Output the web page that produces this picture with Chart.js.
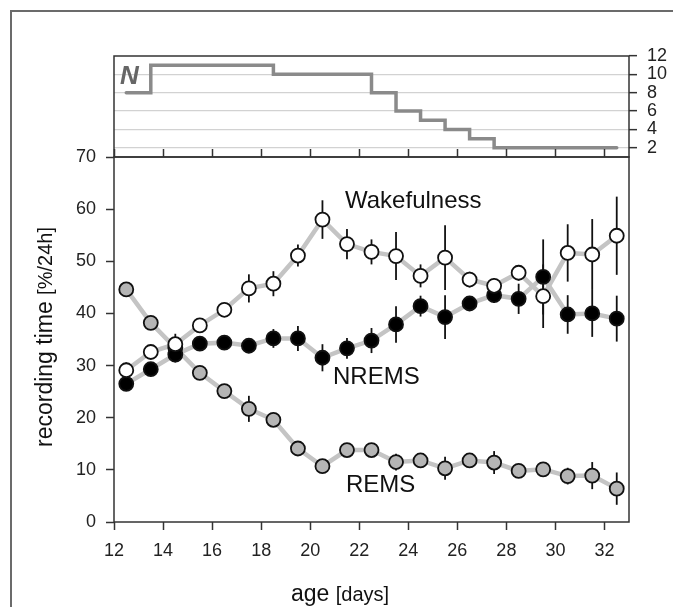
<!DOCTYPE html>
<html>
<head>
<meta charset="utf-8">
<script src="https://cdn.jsdelivr.net/npm/chart.js@4.4.1/dist/chart.umd.min.js"></script>
<style>
html, body { margin: 0; padding: 0; background: #fff; overflow: hidden; }
#wrap { position: relative; width: 673px; height: 607px; overflow: hidden; }
#frame { position: absolute; left: 10px; top: 10px; width: 800px; height: 800px;
         border-left: 2px solid #6b6b6b; border-top: 2px solid #6b6b6b; }
canvas { position: absolute; left: 0; top: 0; }
</style>
</head>
<body>
<div id="wrap">
  <div id="frame"></div>
  <canvas id="topPanel" width="673" height="607"></canvas>
  <canvas id="mainPanel" width="673" height="607"></canvas>
</div>
<script>
// number of animals per age (top panel)
const stepDays = [12.5, 13.5, 18.5, 22.5, 23.5, 24.5, 25.5, 26.5, 27.5, 32.5]
const stepN = [8, 11, 10, 8, 6, 5, 4, 3, 2, 2]
const nTicks = [2, 4, 6, 8, 10, 12]

// recording time per day of age
const days = [12.5, 13.5, 14.5, 15.5, 16.5, 17.5, 18.5, 19.5, 20.5, 21.5, 22.5,
              23.5, 24.5, 25.5, 26.5, 27.5, 28.5, 29.5, 30.5, 31.5, 32.5]
const wake = [29.1, 32.6, 34.1, 37.7, 40.7, 44.8, 45.7, 51.1, 58.0, 53.3, 51.8,
              51.0, 47.2, 50.7, 46.5, 45.3, 47.8, 43.3, 51.6, 51.3, 54.9]
const wakeErr = [1.5, 1.2, 2.0, 1.2, 1.2, 2.7, 2.4, 2.1, 3.7, 2.9, 2.4,
                 4.6, 2.2, 6.2, 1.5, 1.5, 1.5, 6.1, 5.5, 6.8, 7.5]
const nrem = [26.5, 29.3, 32.1, 34.2, 34.4, 33.8, 35.2, 35.2, 31.5, 33.3, 34.8,
              37.9, 41.4, 39.3, 41.9, 43.5, 42.8, 47.0, 39.8, 40.0, 39.0]
const nremErr = [1.0, 1.0, 1.5, 1.2, 1.2, 1.0, 1.8, 2.4, 2.6, 2.0, 2.4,
                 3.5, 2.0, 4.2, 1.2, 1.5, 2.9, 7.2, 3.7, 4.5, 4.4]
const rem = [44.6, 38.2, 33.4, 28.6, 25.1, 21.7, 19.6, 14.1, 10.7, 13.8, 13.8,
             11.5, 11.8, 10.3, 11.8, 11.4, 9.8, 10.1, 8.8, 8.9, 6.4]
const remErr = [0.8, 0.8, 0.8, 0.8, 1.0, 2.5, 1.0, 1.0, 1.0, 1.0, 1.0,
                1.6, 1.0, 2.2, 1.2, 2.2, 1.0, 1.0, 1.6, 2.6, 3.1]

const xTicks = [12, 14, 16, 18, 20, 22, 24, 26, 28, 30, 32]
const yTicks = [0, 10, 20, 30, 40, 50, 60, 70]

Chart.defaults.font.family = "'Liberation Sans', Arial, sans-serif"
Chart.defaults.color = '#222'

const FONT = "'Liberation Sans', Arial, sans-serif"

const frame = {
  id: 'frame',
  beforeDatasetsDraw(chart) {
    const a = chart.chartArea, ctx = chart.ctx
    ctx.save()
    ctx.strokeStyle = '#333'
    ctx.lineWidth = 1.5
    ctx.strokeRect(a.left, a.top, a.right - a.left, a.bottom - a.top)
    ctx.restore()
  }
}

const nLabel = {
  id: 'nLabel',
  afterDraw(chart) {
    const ctx = chart.ctx, a = chart.chartArea
    ctx.save()
    ctx.font = 'italic bold 26px ' + FONT
    ctx.fillStyle = '#666'
    ctx.textBaseline = 'alphabetic'
    ctx.fillText('N', a.left + 6, a.top + 28)
    ctx.restore()
  }
}

const errBars = {
  id: 'errBars',
  beforeDatasetDraw(chart, args) {
    if (!chart.data.datasets[args.index].errStart) return
    const x = chart.scales.x, y = chart.scales.y, ctx = chart.ctx
    ctx.save()
    ctx.strokeStyle = '#111'
    ctx.lineWidth = 1.8
    ;[[wake, wakeErr], [nrem, nremErr], [rem, remErr]].forEach(([v, e]) => {
      days.forEach((d, i) => {
        const px = x.getPixelForValue(d)
        ctx.beginPath()
        ctx.moveTo(px, y.getPixelForValue(v[i] - e[i]))
        ctx.lineTo(px, y.getPixelForValue(v[i] + e[i]))
        ctx.stroke()
      })
    })
    ctx.restore()
  }
}

const seriesLabels = {
  id: 'seriesLabels',
  afterDatasetsDraw(chart, args, opts) {
    const x = chart.scales.x, y = chart.scales.y, ctx = chart.ctx
    ctx.save()
    ctx.font = '24px ' + FONT
    ctx.fillStyle = '#111'
    ctx.textBaseline = 'middle'
    ctx.textAlign = 'left'
    opts.items.forEach(it => ctx.fillText(it.text, x.getPixelForValue(it.x), y.getPixelForValue(it.y)))
    ctx.restore()
  }
}

const axisTitles = {
  id: 'axisTitles',
  afterDraw(chart) {
    const ctx = chart.ctx
    ctx.save()
    ctx.fillStyle = '#111'
    ctx.textBaseline = 'alphabetic'
    ctx.textAlign = 'left'
    // x title
    ctx.font = '23px ' + FONT
    const w1 = ctx.measureText('age ').width
    ctx.fillText('age ', 291, 601)
    ctx.font = '20px ' + FONT
    ctx.fillText('[days]', 291 + w1, 601)
    // y title
    ctx.translate(52, 447)
    ctx.rotate(-Math.PI / 2)
    ctx.font = '23px ' + FONT
    const w2 = ctx.measureText('recording time ').width
    ctx.fillText('recording time ', 0, 0)
    ctx.font = '20px ' + FONT
    ctx.fillText('[%/24h]', w2, 0)
    ctx.restore()
  }
}

new Chart(document.getElementById('topPanel'), {
  type: 'line',
  data: {
    datasets: [{
      data: stepDays.map((d, i) => ({ x: d, y: stepN[i] })),
      stepped: 'before',
      borderColor: '#8a8a8a',
      borderWidth: 3.5,
      borderCapStyle: 'round',
      pointRadius: 0,
      fill: false
    }]
  },
  options: {
    responsive: false,
    animation: false,
    devicePixelRatio: 1,
    layout: { padding: { left: 114, top: 56, right: 0, bottom: 450 } },
    plugins: { legend: { display: false }, tooltip: { enabled: false } },
    scales: {
      x: { type: 'linear', min: 12, max: 33, display: false },
      y: {
        position: 'right', min: 1, max: 12,
        afterBuildTicks: s => { s.ticks = nTicks.map(v => ({ value: v })) },
        afterFit: s => { s.width = 44 },
        grid: {
          color: c => (c.tick && c.tick.value < 12) ? '#d2d2d2' : 'rgba(0,0,0,0)',
          lineWidth: 1.3, tickColor: '#333', tickLength: 8, tickWidth: 1.5
        },
        border: { display: false },
        ticks: { padding: 10, font: { size: 18 }, color: '#222', autoSkip: false }
      }
    }
  },
  plugins: [frame, nLabel]
})

const pts = arr => days.map((d, i) => ({ x: d, y: arr[i] }))
const lineDs = arr => ({
  data: pts(arr), borderColor: '#c4c4c4', borderWidth: 4.5,
  pointRadius: 0, order: 10, fill: false, tension: 0
})
const ptDs = (arr, fill, order, errStart) => ({
  data: pts(arr), showLine: false, pointRadius: 7,
  pointBackgroundColor: fill, pointBorderColor: '#111', pointBorderWidth: 1.8,
  order: order, errStart: errStart
})

const tickGrid = { drawOnChartArea: false, tickLength: 8, tickColor: '#333', tickWidth: 1.5 }

new Chart(document.getElementById('mainPanel'), {
  type: 'line',
  data: {
    datasets: [
      lineDs(rem), lineDs(nrem), lineDs(wake),
      ptDs(rem, '#b5b5b5', 3, true), ptDs(nrem, '#000', 2, false), ptDs(wake, '#fff', 1, false)
    ]
  },
  options: {
    responsive: false,
    animation: false,
    devicePixelRatio: 1,
    layout: { padding: { left: 14, top: 149, right: 44, bottom: 45 } },
    plugins: {
      legend: { display: false },
      tooltip: { enabled: false },
      seriesLabels: {
        items: [
          { text: 'Wakefulness', x: 21.42, y: 61.5 },
          { text: 'NREMS', x: 20.93, y: 27.8 },
          { text: 'REMS', x: 21.46, y: 7.0 }
        ]
      }
    },
    scales: {
      x: {
        type: 'linear', position: 'bottom', min: 12, max: 33,
        afterBuildTicks: s => { s.ticks = xTicks.map(v => ({ value: v })) },
        afterFit: s => { s.height = 40 },
        grid: tickGrid,
        border: { display: false },
        ticks: { padding: 10, font: { size: 18 }, color: '#222', maxRotation: 0, autoSkip: false }
      },
      x2: {
        type: 'linear', position: 'top', min: 12, max: 33,
        afterBuildTicks: s => { s.ticks = xTicks.map(v => ({ value: v })) },
        afterFit: s => { s.height = 8 },
        grid: tickGrid,
        border: { display: false },
        ticks: { display: false, autoSkip: false }
      },
      y: {
        min: 0, max: 70,
        afterBuildTicks: s => { s.ticks = yTicks.map(v => ({ value: v })) },
        afterFit: s => { s.width = 100 },
        grid: tickGrid,
        border: { display: false },
        ticks: { padding: 10, font: { size: 18 }, color: '#222', autoSkip: false }
      }
    }
  },
  plugins: [frame, errBars, seriesLabels, axisTitles]
})
</script>
</body>
</html>
